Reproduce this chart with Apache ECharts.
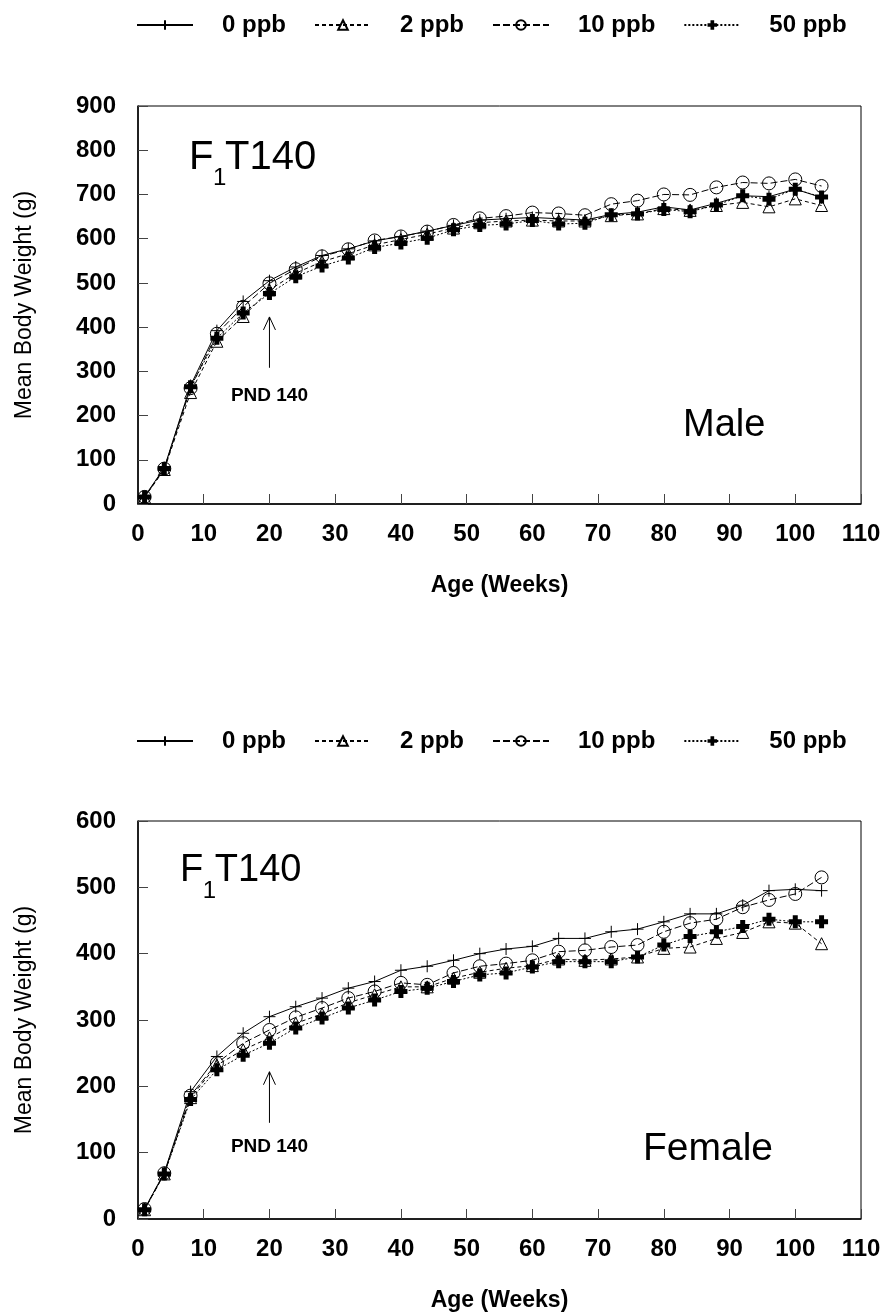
<!DOCTYPE html>
<html>
<head>
<meta charset="utf-8">
<script src="https://cdn.jsdelivr.net/npm/echarts@6/dist/echarts.min.js"></script>
<style>
html,body{margin:0;padding:0;background:#fff;}
#chart{width:890px;height:1315px;}
</style>
</head>
<body>
<div id="chart"></div>
<script>
// ---------- DATA ----------
const weeks = [1, 4, 8, 12, 16, 20, 24, 28, 32, 36, 40, 44, 48, 52, 56, 60, 64, 68, 72, 76, 80, 84, 88, 92, 96, 100, 104];
const seriesNames = ['0 ppb', '2 ppb', '10 ppb', '50 ppb'];

const male0  = [17, 82, 268, 392, 458, 505, 536, 562, 577, 595, 605, 617, 630, 642, 645, 648, 645, 642, 655, 660, 672, 665, 680, 697, 695, 712, 693];
const male2  = [15, 78, 252, 368, 424, 484, 522, 548, 566, 586, 598, 610, 624, 636, 640, 642, 640, 640, 652, 656, 668, 664, 675, 682, 672, 690, 675];
const male10 = [16, 80, 262, 385, 446, 499, 531, 560, 576, 596, 605, 616, 631, 646, 651, 659, 657, 653, 678, 686, 700, 699, 716, 727, 725, 734, 719];
const male50 = [16, 80, 265, 375, 432, 476, 514, 538, 556, 580, 590, 601, 620, 630, 633, 641, 633, 635, 654, 656, 666, 661, 676, 697, 689, 712, 694];

const female0  = [15, 70, 192, 245, 280, 305, 320, 333, 348, 358, 375, 381, 390, 400, 407, 411, 423, 423, 433, 437, 448, 460, 460, 473, 495, 497, 495];
const female2  = [14, 68, 183, 232, 255, 273, 295, 309, 326, 338, 350, 350, 363, 372, 378, 382, 392, 390, 392, 395, 408, 410, 423, 432, 448, 446, 415];
const female10 = [15, 69, 186, 235, 265, 285, 304, 318, 333, 343, 356, 353, 371, 381, 385, 390, 403, 405, 410, 413, 433, 446, 452, 470, 481, 490, 515];
const female50 = [14, 68, 180, 225, 247, 265, 288, 303, 318, 330, 343, 348, 358, 368, 371, 380, 388, 388, 388, 395, 413, 426, 433, 441, 452, 448, 448];

const xTicks = [0, 10, 20, 30, 40, 50, 60, 70, 80, 90, 100, 110];
const maleYMax = 900;
const femaleYMax = 600;

// annotation anchors (data coordinates)
const maleArrow = { week: 20, from: 308, to: 423, label: 244 };
const femaleArrow = { week: 20, from: 145, to: 222, label: 109 };

// ---------- STYLES ----------
const FONT = 'Liberation Sans, Arial, Helvetica, sans-serif';
const styleMap = {
  '0 ppb':  { symbol: 'path://M6,0 L6,12 M0,6 L12,6', size: 12, fill: 'rgba(0,0,0,0)', border: 1, line: 'solid' },
  '2 ppb':  { symbol: 'triangle', size: 12, fill: 'rgba(0,0,0,0)', border: 1, line: [4, 3] },
  '10 ppb': { symbol: 'circle', size: 13, fill: 'rgba(0,0,0,0)', border: 1, line: [7, 3] },
  '50 ppb': { symbol: 'path://M4,0 L9,0 L9,4 L13,4 L13,9 L9,9 L9,13 L4,13 L4,9 L0,9 L0,4 L4,4 Z', size: 13, fill: '#000', border: 0, line: [2, 2] }
};

function mkSeries(name, values, idx) {
  const s = styleMap[name];
  return {
    type: 'line',
    name: name,
    xAxisIndex: idx,
    yAxisIndex: idx,
    data: weeks.map((w, i) => [w, values[i]]),
    symbol: s.symbol,
    symbolSize: s.size,
    showSymbol: true,
    clip: false,
    lineStyle: { color: '#000', width: 1, type: s.line },
    itemStyle: { color: s.fill, borderColor: '#000', borderWidth: s.border },
    emphasis: { disabled: true },
    animation: false
  };
}

function mkXAxis(gridIndex) {
  return {
    type: 'value', gridIndex: gridIndex, min: 0, max: 110, interval: 10,
    name: 'Age (Weeks)', nameLocation: 'middle', nameGap: 70,
    nameTextStyle: { fontFamily: FONT, fontWeight: 'bold', fontSize: 23, color: '#000' },
    axisLine: { show: true, onZero: false, lineStyle: { color: '#000', width: 1.5 } },
    axisTick: { show: true, inside: true, length: 10, lineStyle: { color: '#444', width: 1 } },
    axisLabel: { fontFamily: FONT, fontWeight: 'bold', fontSize: 24, color: '#000', margin: 18,
      formatter: v => xTicks.includes(v) ? String(v) : '' },
    splitLine: { show: false }
  };
}
function mkYAxis(gridIndex, max) {
  return {
    type: 'value', gridIndex: gridIndex, min: 0, max: max, interval: 100,
    name: 'Mean Body Weight (g)', nameLocation: 'middle', nameGap: 102, nameRotate: 90,
    nameTextStyle: { fontFamily: FONT, fontSize: 23, color: '#000' },
    axisLine: { show: true, onZero: false, lineStyle: { color: '#000', width: 1.5 } },
    axisTick: { show: true, inside: true, length: 10, lineStyle: { color: '#444', width: 1 } },
    axisLabel: { fontFamily: FONT, fontWeight: 'bold', fontSize: 24, color: '#000', margin: 22 },
    splitLine: { show: false }
  };
}
function mkLegend(top) {
  return {
    top: top, left: 136, orient: 'horizontal', padding: 0,
    data: seriesNames,
    itemWidth: 56, itemHeight: 12, itemGap: 28,
    selectedMode: false,
    textStyle: { fontFamily: FONT, fontWeight: 'bold', fontSize: 24, color: '#000', padding: [0, 0, 0, 24] }
  };
}

const chart = echarts.init(document.getElementById('chart'), null, { renderer: 'canvas' });
const grids = [
  { left: 138, top: 106, width: 723, height: 398, show: true, borderColor: '#000', borderWidth: 1, backgroundColor: 'transparent' },
  { left: 138, top: 821, width: 723, height: 398, show: true, borderColor: '#000', borderWidth: 1, backgroundColor: 'transparent' }
];

chart.setOption({
  animation: false,
  backgroundColor: '#fff',
  legend: [mkLegend(13), mkLegend(729)],
  grid: grids,
  xAxis: [mkXAxis(0), mkXAxis(1)],
  yAxis: [mkYAxis(0, maleYMax), mkYAxis(1, femaleYMax)],
  series: [
    mkSeries('0 ppb', male0, 0), mkSeries('2 ppb', male2, 0), mkSeries('10 ppb', male10, 0), mkSeries('50 ppb', male50, 0),
    mkSeries('0 ppb', female0, 1), mkSeries('2 ppb', female2, 1), mkSeries('10 ppb', female10, 1), mkSeries('50 ppb', female50, 1)
  ]
});

// ---------- annotations ----------
function arrowGraphics(gridIndex, a) {
  const p0 = chart.convertToPixel({ gridIndex: gridIndex }, [a.week, a.from]);
  const p1 = chart.convertToPixel({ gridIndex: gridIndex }, [a.week, a.to]);
  const pl = chart.convertToPixel({ gridIndex: gridIndex }, [a.week, a.label]);
  return [
    { type: 'line', shape: { x1: p0[0], y1: p0[1], x2: p1[0], y2: p1[1] }, style: { stroke: '#000', lineWidth: 1 } },
    { type: 'polyline', shape: { points: [[p1[0] - 6, p1[1] + 13], [p1[0], p1[1]], [p1[0] + 6, p1[1] + 13]] }, style: { stroke: '#000', lineWidth: 1, fill: null } },
    { type: 'text', x: pl[0], y: pl[1], style: { text: 'PND 140', fontFamily: FONT, fontWeight: 'bold', fontSize: 19, fill: '#000', align: 'center', verticalAlign: 'middle' } }
  ];
}
function titleGraphics(fx, cy, big) {
  return [
    { type: 'text', x: fx, y: cy, style: { text: 'F', fontFamily: FONT, fontSize: big, fill: '#000', align: 'left', verticalAlign: 'middle' } },
    { type: 'text', x: fx + big * 0.6, y: cy + 20, style: { text: '1', fontFamily: FONT, fontSize: 24, fill: '#000', align: 'left', verticalAlign: 'middle' } },
    { type: 'text', x: fx + big * 0.6 + 12, y: cy, style: { text: 'T140', fontFamily: FONT, fontSize: big, fill: '#000', align: 'left', verticalAlign: 'middle' } }
  ];
}
const g = [].concat(
  arrowGraphics(0, maleArrow),
  arrowGraphics(1, femaleArrow),
  titleGraphics(189, 158, 40),
  titleGraphics(180, 871, 38),
  [
    { type: 'text', x: 683, y: 426, style: { text: 'Male', fontFamily: FONT, fontSize: 38, fill: '#000', align: 'left', verticalAlign: 'middle' } },
    { type: 'text', x: 643, y: 1149, style: { text: 'Female', fontFamily: FONT, fontSize: 39, fill: '#000', align: 'left', verticalAlign: 'middle' } }
  ]
);
chart.setOption({ graphic: g });
</script>
</body>
</html>
